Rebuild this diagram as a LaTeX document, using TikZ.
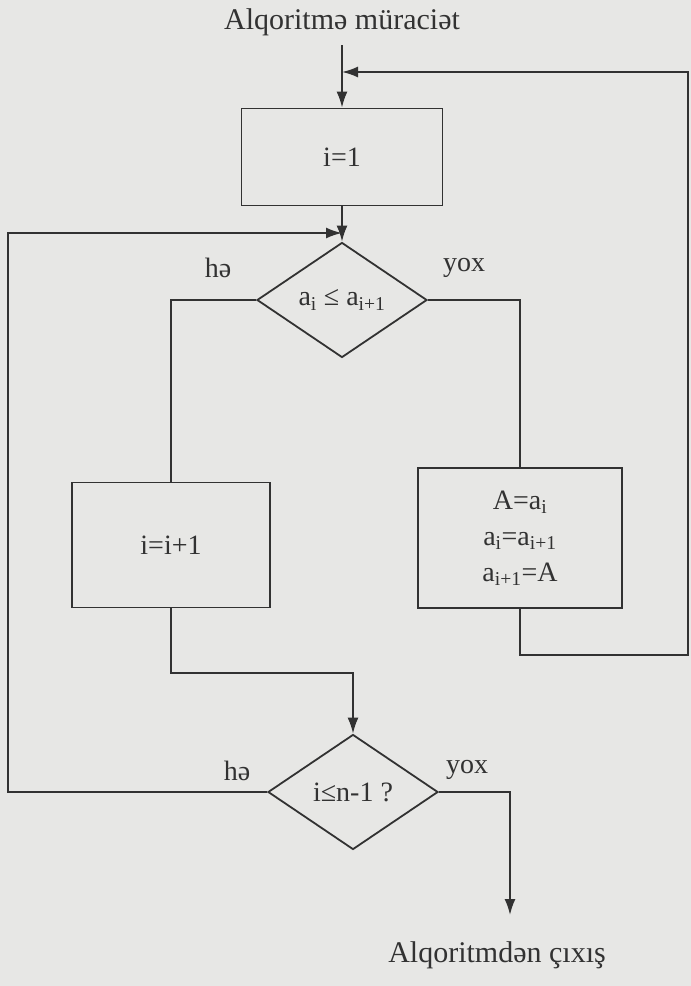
\documentclass[tikz,border=0pt]{standalone}
\usepackage{fontspec}
\setmainfont{Liberation Serif}
\usepackage{tikz}
\usetikzlibrary{shapes.geometric,arrows.meta}
\definecolor{paper}{RGB}{231,231,229}
\definecolor{ink}{RGB}{50,50,50}

\begin{document}
\begin{tikzpicture}[x=1pt, y=-1pt, every node/.style={font=\fontsize{28}{36}\selectfont, text=ink},
	blk/.style={draw=ink, line width=1.8pt, rectangle, inner sep=0pt},
	cond/.style={draw=ink, line width=1.8pt, diamond, minimum width=170pt, minimum height=115pt, inner sep=0pt},
	ln/.style={draw=ink, line width=1.8pt},
	arr/.style={ln, -{Latex[length=16pt, width=11pt]}}]
	\fill[paper] (0,0) rectangle (691,986);
	\useasboundingbox (0,0) rectangle (691,986);
	% blocks
	\node (start) at (342,22) {\fontsize{30}{34}\selectfont Alqoritmə müraciət};
	\node[blk, minimum width=201pt, minimum height=97pt] (init) at (342,157) {i=1};
	\node[cond] (cmp) at (342,300) {a\textsubscript{i} ≤ a\textsubscript{i+1}};
	\node[blk, minimum width=198pt, minimum height=125pt] (inc) at (171,545) {i=i+1};
	\node[blk, minimum width=204pt, minimum height=140pt, align=center] (swap) at (520,538) {A=a\textsubscript{i}\\ a\textsubscript{i}=a\textsubscript{i+1}\\ a\textsubscript{i+1}=A};
	\node[cond] (check) at (353,792) {i≤n-1 ?};
	\node (stop) at (497,955) {\fontsize{30}{34}\selectfont Alqoritmdən çıxış};
	\coordinate (join1) at (342,72);
	\coordinate (join2) at (342,233);
	% labels
	\node (yes1) at (218,268) {hə}; \node (no1) at (464,268) {yox};
	\node (yes2) at (237,771) {hə}; \node (no2) at (467,770) {yox};
	% connectors
	\draw[arr] ([yshift=-6pt]start.south) -- (init.north);
	\draw[arr] (init.south) -- (cmp.north);
	\draw[ln] (cmp.west) -| (inc.north);
	\draw[ln] (cmp.east) -| (swap.north);
	\draw[arr] (swap.south) |- (688,655) -- (688,72) -- (join1);
	\draw[arr] (inc.south) |- (353,673) -- (check.north);
	\draw[arr] (check.west) -| (8,233) -- (join2);
	\draw[arr] (check.east) -| (510,915) coordinate (exitend);
\end{tikzpicture}
\end{document}
